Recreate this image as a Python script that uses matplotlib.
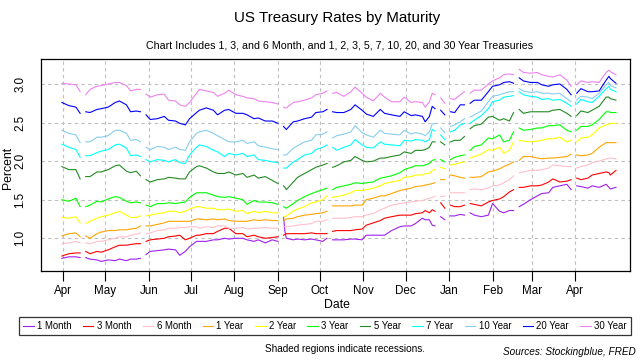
import numpy as np
import pandas as pd
import matplotlib
matplotlib.use("Agg")
import matplotlib.pyplot as plt
import matplotlib.dates as mdates

N = None
dates = ["2017-03-31","2017-04-05","2017-04-10","2017-04-13","2017-04-14",
"2017-04-17","2017-04-20","2017-04-25","2017-04-28","2017-05-03","2017-05-08","2017-05-11","2017-05-16","2017-05-19","2017-05-23","2017-05-26","2017-05-29",
"2017-05-30","2017-06-02","2017-06-07","2017-06-12","2017-06-15","2017-06-20","2017-06-23","2017-06-27","2017-06-30","2017-07-05","2017-07-07","2017-07-12","2017-07-17","2017-07-20","2017-07-25","2017-07-28","2017-08-02","2017-08-07","2017-08-10","2017-08-15","2017-08-18","2017-08-23","2017-08-28","2017-09-01","2017-09-04",
"2017-09-05","2017-09-06","2017-09-07","2017-09-12","2017-09-15","2017-09-20","2017-09-25","2017-09-28","2017-10-03","2017-10-06","2017-10-09",
"2017-10-10","2017-10-13","2017-10-18","2017-10-23","2017-10-26","2017-10-31","2017-11-03","2017-11-08","2017-11-13","2017-11-16","2017-11-21","2017-11-27","2017-11-30","2017-12-05","2017-12-08","2017-12-13","2017-12-15","2017-12-18","2017-12-20","2017-12-22","2017-12-25",
"2017-12-26","2017-12-29","2018-01-01",
"2018-01-02","2018-01-05","2018-01-09","2018-01-12","2018-01-15",
"2018-01-16","2018-01-19","2018-01-24","2018-01-29","2018-02-01","2018-02-06","2018-02-09","2018-02-13","2018-02-16","2018-02-19",
"2018-02-20","2018-02-23","2018-02-28","2018-03-05","2018-03-08","2018-03-13","2018-03-16","2018-03-21","2018-03-26","2018-03-29","2018-03-30",
"2018-04-02","2018-04-05","2018-04-10","2018-04-13","2018-04-18","2018-04-23","2018-04-25","2018-04-26","2018-04-30"]

m1 = [0.74,0.76,0.76,0.75,N,
0.75,0.73,0.72,0.70,0.72,0.71,0.73,0.71,0.73,0.73,0.74,N,
0.79,0.83,0.84,0.85,0.86,0.85,0.78,0.83,0.89,0.96,0.96,0.96,0.98,0.98,1.00,0.99,1.00,1.00,0.98,0.96,0.98,0.94,0.98,0.96,N,
1.28,1.09,1.00,0.98,0.99,0.98,0.99,0.98,0.96,1.00,N,
0.98,0.98,0.98,0.99,0.99,0.98,1.04,1.04,1.04,1.04,1.10,1.15,1.16,1.16,1.19,1.26,1.24,1.24,1.17,1.16,N,
1.28,1.24,N,
1.29,1.29,1.31,1.30,N,
1.33,1.30,1.28,1.30,1.45,1.35,1.33,1.36,1.36,N,
1.41,1.44,1.50,1.55,1.58,1.59,1.66,1.68,1.70,1.63,N,
1.68,1.67,1.65,1.68,1.66,1.70,1.66,1.64,1.66]

m3 = [0.77,0.80,0.81,0.81,N,
0.83,0.80,0.83,0.82,0.85,0.89,0.91,0.91,0.92,0.93,0.93,N,
0.96,0.98,0.99,1.00,1.02,1.03,1.04,0.98,1.00,1.04,1.04,1.06,1.06,1.09,1.13,1.13,1.06,1.06,1.02,1.04,1.02,1.00,1.01,1.02,N,
1.04,1.05,1.06,1.06,1.06,1.06,1.07,1.06,1.06,1.06,N,
1.09,1.10,1.10,1.10,1.11,1.12,1.17,1.20,1.23,1.26,1.28,1.30,1.30,1.30,1.32,1.33,1.36,1.33,1.37,1.35,N,
1.46,1.39,N,
1.43,1.41,1.41,1.43,N,
1.45,1.44,1.42,1.47,1.49,1.51,1.54,1.60,1.63,N,
1.66,1.66,1.68,1.68,1.69,1.73,1.77,1.73,1.74,1.76,N,
1.78,1.76,1.78,1.82,1.84,1.86,1.85,1.82,1.88]

m6 = [0.93,0.94,0.96,0.94,N,
0.94,0.93,0.96,0.96,0.98,1.00,1.02,1.02,1.04,1.05,1.07,N,
1.06,1.07,1.10,1.11,1.13,1.13,1.14,1.14,1.15,1.15,1.13,1.15,1.14,1.16,1.16,1.13,1.13,1.14,1.12,1.13,1.13,1.14,1.13,1.13,N,
1.15,1.15,1.15,1.16,1.17,1.18,1.19,1.22,1.22,1.24,N,
1.26,1.26,1.26,1.27,1.28,1.28,1.30,1.32,1.37,1.39,1.43,1.45,1.46,1.47,1.48,1.49,1.50,1.52,1.53,1.54,N,
1.54,1.55,N,
1.59,1.59,1.59,1.59,N,
1.63,1.64,1.63,1.65,1.68,1.69,1.72,1.76,1.81,N,
1.85,1.86,1.88,1.88,1.89,1.91,1.95,1.94,1.93,1.93,N,
1.91,1.93,1.95,1.98,2.00,2.03,2.04,2.04,2.03]

y1 = [1.03,1.06,1.07,1.02,N,
1.03,1.00,1.06,1.08,1.10,1.10,1.11,1.11,1.12,1.13,1.16,N,
1.16,1.16,1.18,1.20,1.22,1.22,1.22,1.22,1.22,1.25,1.25,1.24,1.25,1.24,1.25,1.23,1.22,1.22,1.22,1.24,1.23,1.24,1.23,1.23,N,
1.22,1.24,1.25,1.26,1.28,1.30,1.31,1.32,1.33,1.35,N,
1.42,1.42,1.42,1.42,1.43,1.43,1.50,1.52,1.55,1.55,1.58,1.62,1.63,1.65,1.67,1.68,1.69,1.70,1.71,1.72,N,
1.76,1.76,N,
1.82,1.81,1.79,1.78,N,
1.79,1.79,1.80,1.86,1.87,1.90,1.93,1.96,1.99,N,
2.01,2.06,2.06,2.04,2.03,2.04,2.04,2.05,2.06,2.09,N,
2.08,2.07,2.08,2.10,2.18,2.24,2.24,2.24,2.24]

y2 = [1.27,1.26,1.28,1.20,N,
1.19,1.22,1.26,1.28,1.30,1.33,1.35,1.30,1.27,1.27,1.29,N,
1.29,1.30,1.32,1.33,1.35,1.35,1.33,1.35,1.38,1.41,1.41,1.39,1.39,1.37,1.37,1.38,1.35,1.36,1.32,1.35,1.33,1.35,1.33,1.33,N,
1.28,1.28,1.29,1.35,1.38,1.41,1.46,1.47,1.50,1.55,N,
1.53,1.54,1.56,1.59,1.62,1.62,1.63,1.65,1.68,1.71,1.73,1.75,1.79,1.80,1.82,1.82,1.84,1.84,1.88,1.89,N,
1.92,1.90,N,
1.95,1.96,1.98,1.99,N,
2.04,2.06,2.09,2.15,2.14,2.18,2.10,2.14,2.25,N,
2.27,2.26,2.25,2.26,2.27,2.29,2.29,2.31,2.25,2.27,N,
2.25,2.30,2.31,2.34,2.43,2.47,2.48,2.49,2.49]

y3 = [1.50,1.48,1.52,1.41,N,
1.41,1.43,1.48,1.47,1.51,1.54,1.53,1.48,1.46,1.47,1.46,N,
1.43,1.41,1.45,1.45,1.46,1.45,1.46,1.47,1.53,1.59,1.59,1.59,1.56,1.54,1.53,1.54,1.52,1.50,1.44,1.49,1.47,1.47,1.46,1.44,N,
1.41,1.40,1.39,1.45,1.49,1.54,1.58,1.60,1.63,1.65,N,
1.63,1.66,1.68,1.70,1.72,1.71,1.72,1.73,1.78,1.79,1.81,1.85,1.89,1.92,1.94,1.94,1.95,1.97,2.01,2.02,N,
2.02,1.99,N,
2.02,2.05,2.07,2.08,N,
2.14,2.19,2.21,2.30,2.29,2.34,2.25,2.27,2.38,N,
2.43,2.40,2.41,2.43,2.43,2.46,2.46,2.47,2.40,2.38,N,
2.40,2.45,2.45,2.47,2.54,2.64,2.64,2.63,2.63]

y5 = [1.93,1.89,1.89,1.77,N,
1.80,1.80,1.86,1.86,1.89,1.94,1.95,1.87,1.85,1.87,1.81,N,
1.76,1.73,1.76,1.77,1.79,1.78,1.77,1.77,1.86,1.93,1.94,1.91,1.86,1.84,1.84,1.86,1.82,1.84,1.79,1.82,1.78,1.80,1.75,1.71,N,
1.68,1.66,1.63,1.73,1.79,1.84,1.89,1.92,1.95,1.97,N,
1.92,1.94,1.99,2.01,2.06,2.01,1.99,2.00,2.04,2.04,2.06,2.08,2.12,2.10,2.14,2.14,2.15,2.18,2.25,2.25,N,
2.25,2.21,N,
2.25,2.27,2.27,2.32,N,
2.42,2.46,2.48,2.57,2.58,2.53,2.55,2.52,2.63,N,
2.67,2.62,2.64,2.64,2.64,2.64,2.66,2.67,2.62,2.58,N,
2.59,2.65,2.63,2.66,2.71,2.83,2.83,2.81,2.79]

y7 = [2.22,2.18,2.15,2.05,N,
2.07,2.07,2.11,2.13,2.15,2.21,2.22,2.17,2.07,2.08,2.06,N,
2.02,1.99,2.02,2.01,1.99,2.02,1.98,1.97,2.08,2.18,2.21,2.19,2.14,2.12,2.06,2.10,2.08,2.10,2.06,2.08,2.02,2.01,1.99,1.98,N,
1.91,1.91,1.91,1.99,2.02,2.08,2.10,2.15,2.18,2.21,N,
2.18,2.14,2.18,2.21,2.28,2.21,2.18,2.17,2.25,2.22,2.21,2.20,2.27,2.26,2.28,2.27,2.25,2.28,2.41,2.39,N,
2.34,2.28,N,
2.38,2.40,2.47,2.49,N,
2.49,2.53,2.59,2.68,2.77,2.79,2.83,2.84,2.85,N,
2.90,2.86,2.84,2.83,2.80,2.81,2.79,2.80,2.75,2.71,N,
2.74,2.80,2.77,2.76,2.84,2.94,2.97,2.93,2.90]

y10 = [2.40,2.36,2.34,2.24,N,
2.25,2.25,2.31,2.31,2.33,2.40,2.40,2.36,2.27,2.28,2.25,N,
2.18,2.15,2.19,2.18,2.15,2.18,2.15,2.14,2.25,2.36,2.38,2.40,2.36,2.33,2.28,2.25,2.25,2.27,2.23,2.25,2.20,2.18,2.16,2.15,N,
2.08,2.08,2.08,2.17,2.20,2.25,2.27,2.34,2.35,2.38,N,
2.30,2.33,2.35,2.38,2.46,2.37,2.34,2.31,2.40,2.36,2.35,2.34,2.40,2.35,2.37,2.35,2.33,2.38,2.48,2.49,N,
2.43,2.37,N,
2.45,2.47,2.51,2.55,N,
2.57,2.60,2.65,2.77,2.84,2.86,2.88,2.90,2.90,N,
2.94,2.91,2.89,2.90,2.88,2.88,2.87,2.88,2.81,2.77,N,
2.79,2.84,2.83,2.81,2.88,2.99,3.02,2.98,2.95]

y20 = [2.76,2.72,2.70,2.62,N,
2.64,2.63,2.67,2.68,2.70,2.76,2.78,2.73,2.64,2.65,2.64,N,
2.60,2.54,2.55,2.58,2.53,2.52,2.49,2.47,2.55,2.63,2.66,2.69,2.66,2.60,2.66,2.67,2.62,2.62,2.60,2.55,2.56,2.52,2.52,2.49,N,
2.45,2.43,2.41,2.51,2.52,2.55,2.57,2.63,2.64,2.67,N,
2.64,2.63,2.63,2.67,2.73,2.66,2.61,2.58,2.67,2.62,2.60,2.58,2.64,2.59,2.60,2.58,2.51,2.58,2.71,2.68,N,
2.66,2.60,N,
2.64,2.63,2.73,2.73,N,
2.75,2.79,2.79,2.90,2.97,2.99,3.02,3.03,3.01,N,
3.08,3.04,3.02,3.02,2.99,2.97,2.99,3.00,2.93,2.86,N,
2.88,2.94,2.90,2.90,2.91,3.05,3.10,3.07,3.01]

y30 = [3.01,3.00,2.99,2.90,N,
2.86,2.93,2.97,2.98,3.00,3.02,3.02,2.98,2.91,2.93,2.93,N,
2.87,2.83,2.86,2.87,2.79,2.78,2.73,2.71,2.76,2.88,2.93,2.91,2.89,2.84,2.88,2.92,2.86,2.84,2.82,2.81,2.78,2.77,2.76,2.74,N,
2.70,2.69,2.69,2.76,2.77,2.79,2.82,2.86,2.88,2.91,N,
2.88,2.89,2.84,2.90,2.96,2.88,2.83,2.78,2.88,2.83,2.77,2.77,2.83,2.76,2.77,2.76,2.70,2.77,2.88,2.86,N,
2.82,2.75,N,
2.81,2.80,2.86,2.90,N,
2.88,2.92,2.92,3.00,3.04,3.08,3.12,3.13,3.12,N,
3.19,3.15,3.14,3.15,3.12,3.10,3.09,3.12,3.05,2.97,N,
2.99,3.04,3.02,3.03,3.02,3.15,3.18,3.16,3.12]

labels = ["1 Month","3 Month","6 Month","1 Year","2 Year","3 Year","5 Year","7 Year","10 Year","20 Year","30 Year"]
colors = ["#A020F0","#FF0000","#FFC0CB","#FFA500","#FFFF00","#00FF00","#228B22","#00FFFF","#87CEEB","#0000FF","#EE82EE"]
series = [m1, m3, m6, y1, y2, y3, y5, y7, y10, y20, y30]
yticks = [1.0, 1.5, 2.0, 2.5, 3.0]
month_ticks = pd.date_range("2017-04-01", "2018-04-01", freq="MS")

plt.rcParams["font.family"] = ["Liberation Sans", "DejaVu Sans"]

W, H = 640, 360
fig = plt.figure(figsize=(W/100, H/100), dpi=100)
L, R, T, B = 40.5, 630, 59, 271
ax = fig.add_axes([L/W, 1-B/H, (R-L)/W, (B-T)/H])

x = pd.to_datetime(dates)
for vals, c, lab in zip(series, colors, labels):
    v = np.array([np.nan if a is None else a for a in vals], dtype=float)
    ax.plot(x, v, color=c, lw=0.8, label=lab)

ax.set_xlim(pd.Timestamp("2017-03-15 18:00"), pd.Timestamp("2018-05-10"))
ax.set_ylim(0.576, 3.324)
ax.set_xticks(month_ticks)
ax.xaxis.set_major_formatter(mdates.DateFormatter("%b"))
ax.set_yticks(yticks)
ax.set_yticklabels([f"{t:.1f}" for t in yticks], rotation=90, va="center")
ax.grid(True, color="#BEBEBE", linestyle=(0, (3, 3)), linewidth=0.8)
ax.tick_params(axis="x", direction="out", length=7.5, width=0.8, pad=2.5, labelsize=8.4)
ax.tick_params(axis="y", length=0, pad=10, labelsize=8.4)
for s in ax.spines.values():
    s.set_linewidth(0.9)
    s.set_color("black")

fig.text(8/W, 1-168/H, "Percent", rotation=90, ha="center", va="center", fontsize=8.8)
fig.text(337/W, 1-305/H, "Date", ha="center", va="center", fontsize=8.8)
fig.text(337/W, 1-18/H, "US Treasury Rates by Maturity", ha="center", va="center", fontsize=10.9)
fig.text(340/W, 1-45/H, "Chart Includes 1, 3, and 6 Month, and 1, 2, 3, 5, 7, 10, 20, and 30 Year Treasuries",
         ha="center", va="center", fontsize=7.7)
fig.text(345/W, 1-349/H, "Shaded regions indicate recessions.", ha="center", va="center", fontsize=7.2)
fig.text(636/W, 1-352/H, "Sources: Stockingblue, FRED", ha="right", va="center", fontsize=7.2, style="italic")

leg = fig.legend(loc="center", bbox_to_anchor=(325/W, 1-326/H), ncol=11, fontsize=6.9,
                 frameon=True, fancybox=False, edgecolor="black", handlelength=1.1,
                 handletextpad=0.35, columnspacing=1.18, borderpad=0.45, borderaxespad=0)
leg.get_frame().set_linewidth(0.9)

fig.savefig("out.png", dpi=100)
